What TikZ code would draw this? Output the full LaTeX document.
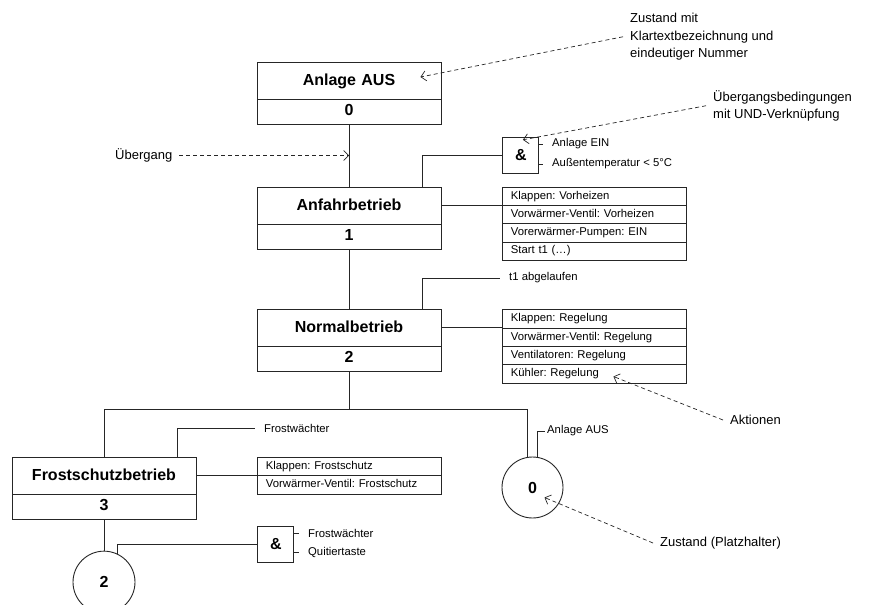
\documentclass[tikz,border=0pt]{standalone}
\usepackage{fontspec}
\setmainfont{Liberation Sans}
\frenchspacing
\usetikzlibrary{arrows.meta, calc, positioning, shapes.multipart}
\newcommand{\kopfzeile}{\rule[-13.5pt]{0pt}{36pt}}
\newcommand{\nummerzeile}{\rule[-8.5pt]{0pt}{24pt}}
\newcommand{\aktzeile}{\rule[-6pt]{0pt}{17.4pt}}
\tikzstyle{zustand} = [% state: plain-text name above its number
  rectangle split,
  rectangle split parts=2,
  text width=176pt,
  align=center,
  inner xsep=4pt,
  inner ysep=0pt,
  draw=black!85,
  line width=0.9pt,
  font=\fontsize{16}{16}\selectfont\bfseries
  ]
\tikzstyle{aktion} = [% actions of a state, one per row
  rectangle split,
  rectangle split parts=4,
  text width=168pt,
  align=left,
  inner xsep=8pt,
  inner ysep=0pt,
  draw=black!85,
  line width=0.9pt,
  font=\fontsize{11.3}{11.3}\selectfont
  ]
\tikzstyle{und} = [% AND gate of transition conditions
  rectangle,
  minimum size=36pt,
  inner sep=0pt,
  draw=black!85,
  line width=0.9pt,
  font=\fontsize{16}{16}\selectfont\bfseries
  ]
\tikzstyle{platzhalter} = [% placeholder for a state
  circle,
  minimum size=61pt,
  inner sep=0pt,
  draw=black!85,
  line width=0.9pt,
  font=\fontsize{16}{16}\selectfont\bfseries
  ]
\tikzstyle{bedingung} = [% condition text
  inner xsep=9pt,
  inner ysep=1pt,
  font=\fontsize{11.3}{11.3}\selectfont
  ]
\tikzstyle{hinweis} = [% explanation text
  inner xsep=7pt,
  inner ysep=0pt,
  align=left,
  font=\fontsize{13}{17.5}\selectfont
  ]
\tikzstyle{linie} = [% solid connector
  draw=black!85,
  line width=0.9pt
  ]
\tikzstyle{pfeil} = [% dashed pointer
  draw=black!85,
  dash pattern=on 4pt off 3pt,
  line width=0.7pt,
  -{Straight Barb[length=5pt,width=10pt]}
  ]

\begin{document}
\begin{tikzpicture}[x=1pt, y=-1pt]
\useasboundingbox[fill=white] (0,0) rectangle (871,605);

%%% Zustaende
\node[zustand, anchor=north] (s0) at (349,62) {\kopfzeile Anlage AUS\nodepart{two}\nummerzeile 0};
\node[zustand] (s1) [below=62pt of s0] {\kopfzeile Anfahrbetrieb\nodepart{two}\nummerzeile 1};
\node[zustand] (s2) [below=60pt of s1] {\kopfzeile Normalbetrieb\nodepart{two}\nummerzeile 2};
\node[zustand, anchor=north] (s3) at (104,457) {\kopfzeile Frostschutzbetrieb\nodepart{two}\nummerzeile 3};
\node[platzhalter] (p0) at (532.5,487.5) {0};
\node[platzhalter, minimum size=62pt] (p2) [below=31pt of s3] {2};

%%% Aktionen
\node[aktion, anchor=north west] (a1) at ([xshift=61pt]s1.north east) {\aktzeile Klappen: Vorheizen\nodepart{two}\aktzeile Vorwärmer-Ventil: Vorheizen\nodepart{three}\aktzeile Vorerwärmer-Pumpen: EIN\nodepart{four}\aktzeile Start t1 (\dots)};
\node[aktion, anchor=north west] (a2) at ([xshift=61pt]s2.north east) {\aktzeile Klappen: Regelung\nodepart{two}\aktzeile Vorwärmer-Ventil: Regelung\nodepart{three}\aktzeile Ventilatoren: Regelung\nodepart{four}\aktzeile Kühler: Regelung};
\node[aktion, rectangle split parts=2, anchor=north west] (a3) at ([xshift=61pt]s3.north east) {\aktzeile Klappen: Frostschutz\nodepart{two}\aktzeile Vorwärmer-Ventil: Frostschutz};

%%% UND-Glieder und Bedingungen
\node[und, anchor=south west] (g1) at ([yshift=13pt]a1.north west) {\&};
\node[und, anchor=north west] (g2) at ([yshift=-31pt]a3.south west) {\&};
\node[bedingung, anchor=west] (e1) at (543,144) {Anlage EIN};
\node[bedingung, anchor=west] (e2) at (543,164) {Außentemperatur < 5°C};
\node[bedingung, anchor=west] (c2) at (500,278) {t1 abgelaufen};
\node[bedingung, anchor=west] (c3) at (255,428) {Frostwächter};
\node[bedingung, anchor=west] (e3) at (299,533) {Frostwächter};
\node[bedingung, anchor=west] (e4) at (299,552) {Quitiertaste};
\node[bedingung, inner xsep=2pt, anchor=west] (c4) at (545,431) {Anlage AUS};

%%% Hinweise
\node[hinweis, anchor=north west] (n1) at (623,13) {Zustand mit\\Klartextbezeichnung und\\eindeutiger Nummer};
\node[hinweis, anchor=north west] (n2) at (706,90) {Übergangsbedingungen\\mit UND-Verknüpfung};
\node[hinweis, anchor=west] (n3) at (108,155.5) {Übergang};
\node[hinweis, anchor=west] (n4) at (723,420) {Aktionen};
\node[hinweis, anchor=west] (n5) at (653,543) {Zustand (Platzhalter)};

%%% Verbindungen
\draw[linie] (s0.south) -- (s1.north);
\draw[linie] (s1.south) -- (s2.north);
\draw[linie] (g1.west) -| ([xshift=-19pt]s1.north east);
\draw[linie] ([yshift=-18.5pt]s1.north east) -- ([yshift=-18.5pt]a1.north west);
\draw[linie] ([xshift=-19pt]s2.north east) |- (c2.west);
\draw[linie] ([yshift=-18.5pt]s2.north east) -- ([yshift=-18.5pt]a2.north west);
\coordinate (abzw) at ([yshift=-37pt]s2.south);
\draw[linie] (s2.south) -- (abzw);
\draw[linie] (abzw) -| (s3.north);
\draw[linie] (abzw) -| (p0.100);
\draw[linie] ([xshift=-19pt]s3.north east) |- (c3.west);
\draw[linie] ([yshift=-18.5pt]s3.north east) -- ([yshift=-18.5pt]a3.north west);
\draw[linie] (s3.south) -- (p2.north);
\draw[linie] (g2.west) -| (p2.65);
\draw[linie] (p0.80) |- (c4.west);
\draw[linie] (g1.east |- e1.west) -- (e1.west);
\draw[linie] (g1.east |- e2.west) -- (e2.west);
\draw[linie] (g2.east |- e3.west) -- (e3.west);
\draw[linie] (g2.east |- e4.west) -- (e4.west);

%%% Hinweispfeile
\draw[pfeil] (n1.west) -- ([xshift=-21pt, yshift=-15pt]s0.north east);
\draw[pfeil] (n2.west) -- ([xshift=2pt, yshift=-3pt]g1.north);
\draw[pfeil] (n3.east) -- (n3.east -| s0.south);
\draw[pfeil] (n4.west) -- ([xshift=111pt, yshift=7pt]a2.south west);
\draw[pfeil] (n5.west) -- ([xshift=12pt, yshift=-10pt]p0.center);

\end{tikzpicture}
\end{document}
